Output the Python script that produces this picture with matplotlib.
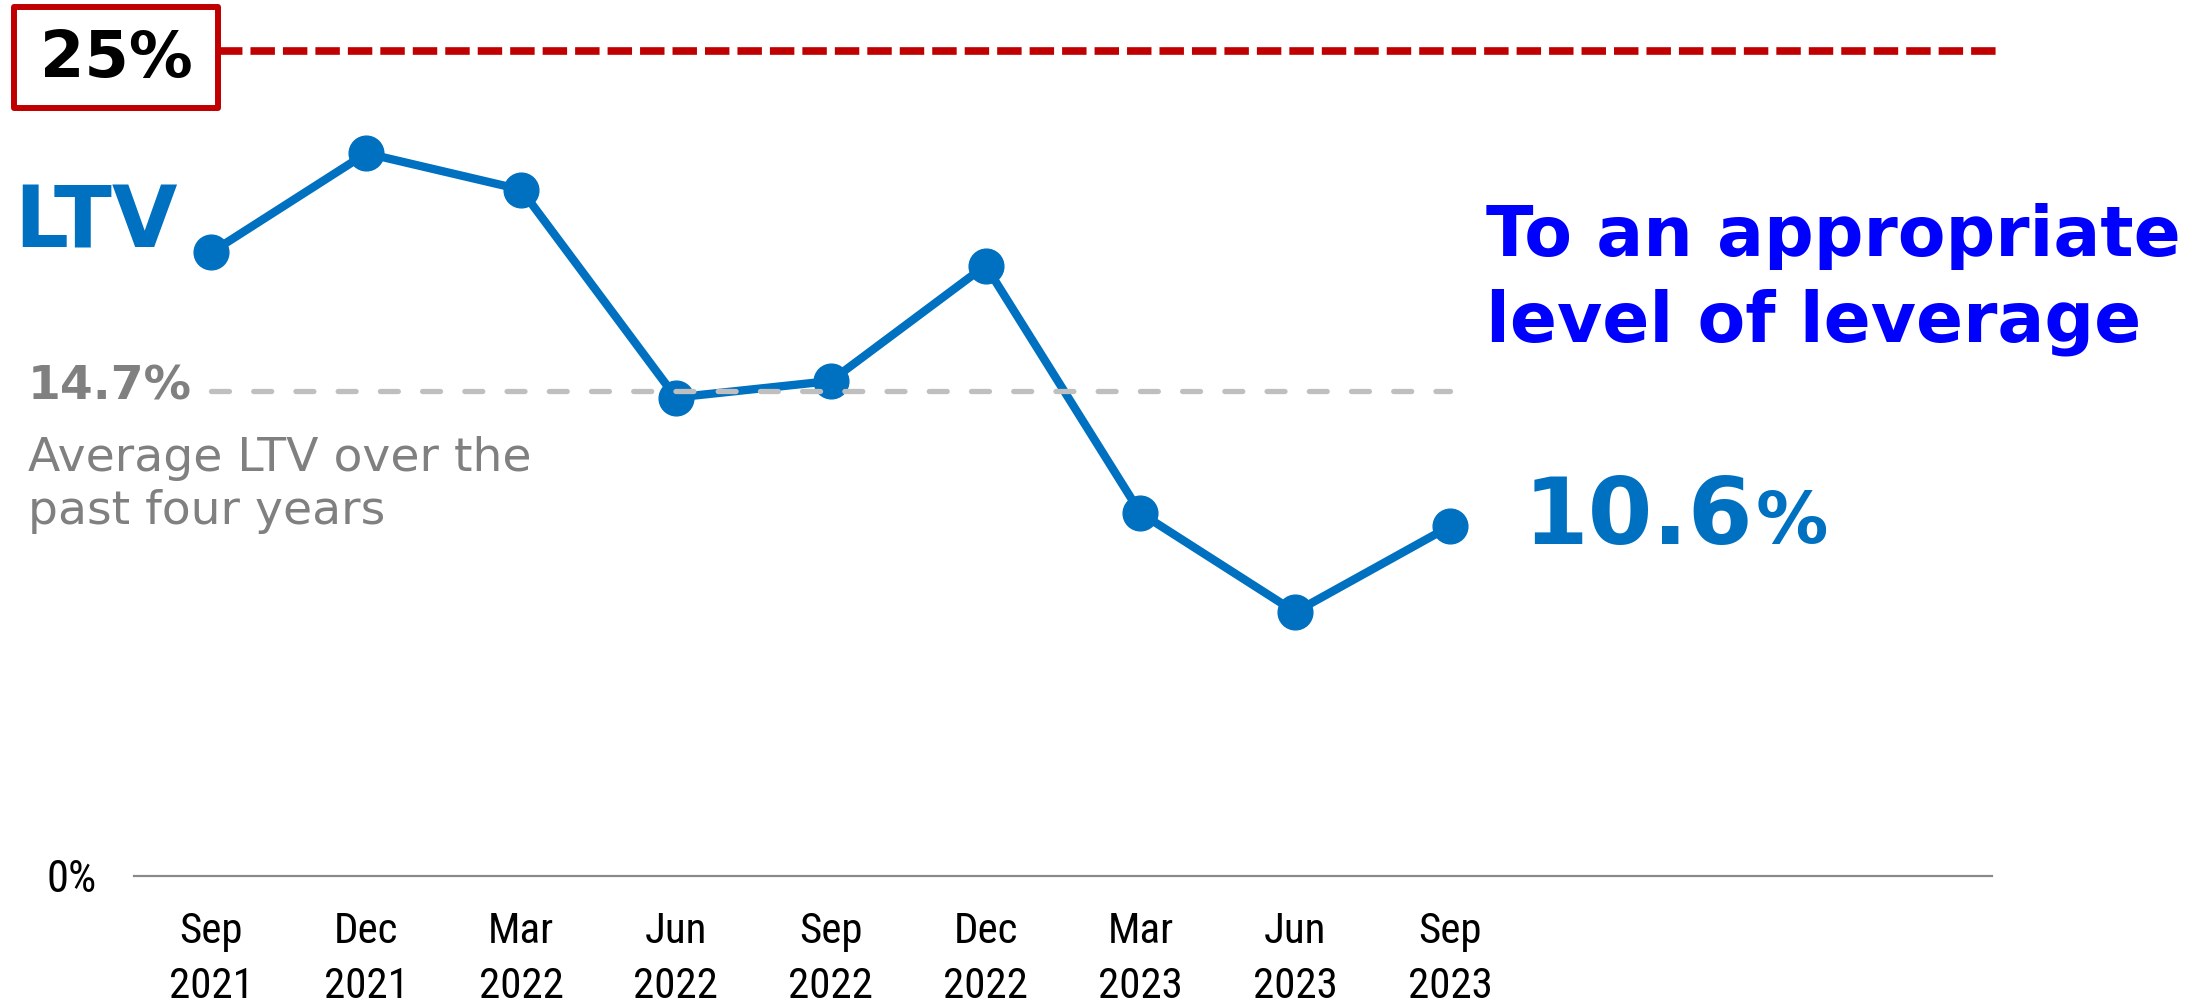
import matplotlib
matplotlib.use("Agg")
import matplotlib.pyplot as plt
from matplotlib import font_manager
from matplotlib.patches import Rectangle

# LTV by quarter end
periods = ["Sep\n2021", "Dec\n2021", "Mar\n2022", "Jun\n2022", "Sep\n2022",
           "Dec\n2022", "Mar\n2023", "Jun\n2023", "Sep\n2023"]
ltv = [18.9, 21.9, 20.8, 14.5, 15.0, 18.5, 11.0, 8.0, 10.6]
avg_ltv = 14.7   # average over the past four years
cap_ltv = 25     # upper limit

BLUE = "#0070C0"
RED = "#C00000"
GREY = "#808080"

installed = {f.name for f in font_manager.fontManager.ttflist}
tick_font = next((f for f in ["Liberation Sans Narrow", "Roboto Condensed",
                              "Liberation Sans"] if f in installed), "DejaVu Sans")
plt.rcParams["font.family"] = ["DejaVu Sans"]

W, H = 2207, 1006
fig = plt.figure(figsize=(W / 100, H / 100), dpi=100)
ax = fig.add_axes([134 / W, 1 - 876 / H, (1992 - 134) / W, (876 - 51) / H])

x = list(range(len(ltv)))
ax.plot(x, ltv, color=BLUE, lw=6, marker="o", ms=25, zorder=3, clip_on=False)

# average line over the series
ax.plot([x[0], x[-1]], [avg_ltv, avg_ltv], color="#BFBFBF", lw=3.8,
        dashes=(3.4, 4.6), dash_capstyle="round", zorder=4)

# 25% ceiling
ax.axhline(cap_ltv, xmin=(218 - 134) / (1992 - 134), xmax=(1997 - 134) / (1992 - 134),
           color=RED, lw=5.5, dashes=(3.2, 1.05), clip_on=False)

ax.set_xlim(-0.5, 11.5)
ax.set_ylim(0, cap_ltv)
ax.set_xticks(x)
ax.set_xticklabels(periods, fontsize=31, family=tick_font, linespacing=1.45)
ax.set_yticks([0])
ax.set_yticklabels(["0%"], fontsize=32, family=tick_font)
ax.tick_params(axis="x", length=0, pad=25)
ax.tick_params(axis="y", length=0, pad=27)
for s in ["top", "right", "left"]:
    ax.spines[s].set_visible(False)
ax.spines["bottom"].set_color("#898989")
ax.spines["bottom"].set_linewidth(1.6)

# labels
box = Rectangle((14 / W, 1 - 108 / H), 204 / W, 101 / H, transform=fig.transFigure,
                facecolor="white", edgecolor=RED, lw=4.3, joinstyle="round")
fig.patches.append(box)
fig.text(116 / W, 1 - 59 / H, f"{cap_ltv}%", fontsize=46, weight="bold",
         ha="center", va="center")

fig.text(14 / W, 1 - 247 / H, "LTV", fontsize=61, weight="bold", color=BLUE,
         va="baseline")

fig.text(28 / W, 1 - 400 / H, f"{avg_ltv}%", fontsize=34, weight="bold",
         color=GREY, va="baseline")
fig.text(28 / W, 1 - 524 / H, "Average LTV over the\npast four years", fontsize=34,
         color=GREY, va="baseline", linespacing=1.23)

last = ax.annotate(f"{ltv[-1]}", xy=(x[-1], ltv[-1]), xytext=(53, -13),
                   textcoords="offset points", fontsize=67, weight="bold",
                   color=BLUE, va="baseline")
ax.annotate("%", xy=(1, 0), xycoords=last, xytext=(2, 4),
            textcoords="offset points", fontsize=52, weight="bold",
            color=BLUE, va="bottom")

fig.text(1486 / W, 1 - 256 / H, "To an appropriate", fontsize=50,
         weight="bold", color="#0000FF", va="baseline")
fig.text(1486 / W, 1 - 342 / H, "level of leverage", fontsize=50,
         weight="bold", color="#0000FF", va="baseline")

fig.savefig("out.png", dpi=100, facecolor="white")
